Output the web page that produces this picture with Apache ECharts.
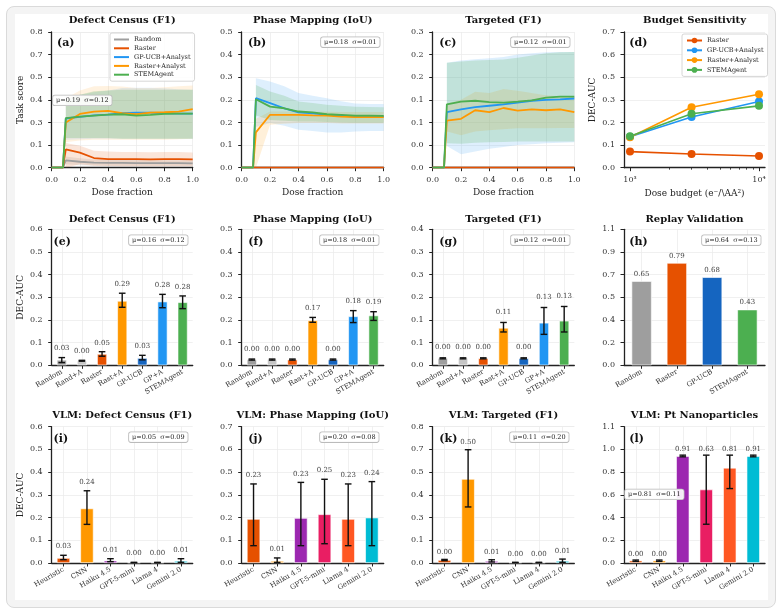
<!DOCTYPE html>
<html><head><meta charset="utf-8">
<script src="https://cdn.jsdelivr.net/npm/echarts@6/dist/echarts.min.js"></script>
<style>
html,body{margin:0;padding:0;background:#fff;}
#card{position:absolute;left:6px;top:6px;width:768px;height:600px;background:#f4f4f4;border:1px solid #dadada;border-radius:8px;}
#inner{position:absolute;left:15px;top:14px;width:753px;height:586px;background:#fff;}
#chart{position:absolute;left:0;top:0;width:782px;height:616px;}
</style></head><body>
<div id="card"></div><div id="inner"></div><div id="chart"></div>
<script>
// ================= DATA =================
const doseX = [0, 0.08, 0.1, 0.2, 0.3, 0.4, 0.5, 0.6, 0.7, 0.8, 0.9, 1.0];
const methodNames = ['Random', 'Raster', 'GP-UCB+Analyst', 'Raster+Analyst', 'STEMAgent'];

// (a) Defect Census (F1) task score vs dose
const aRandom = [0, 0, 0.043, 0.035, 0.030, 0.028, 0.028, 0.027, 0.027, 0.027, 0.027, 0.026];
const aRaster = [0, 0, 0.108, 0.089, 0.057, 0.051, 0.051, 0.050, 0.049, 0.050, 0.050, 0.049];
const aGP     = [0, 0, 0.290, 0.300, 0.308, 0.313, 0.321, 0.325, 0.325, 0.321, 0.319, 0.319];
const aRA     = [0, 0, 0.266, 0.317, 0.331, 0.335, 0.321, 0.315, 0.325, 0.327, 0.331, 0.345];
const aSTEM   = [0, 0, 0.292, 0.301, 0.307, 0.313, 0.315, 0.307, 0.311, 0.317, 0.319, 0.319];
const aRandomLo = [null, null, 0.020, 0.015, 0.012, 0.010, 0.010, 0.010, 0.010, 0.010, 0.010, 0.010];
const aRandomHi = [null, null, 0.066, 0.055, 0.048, 0.045, 0.045, 0.045, 0.044, 0.044, 0.044, 0.043];
const aRasterLo = [null, null, 0.000, 0.020, 0.012, 0.010, 0.008, 0.008, 0.008, 0.008, 0.008, 0.008];
const aRasterHi = [null, null, 0.145, 0.130, 0.100, 0.095, 0.093, 0.092, 0.091, 0.092, 0.092, 0.090];
const aGPLo   = [null, null, 0.165, 0.168, 0.170, 0.170, 0.170, 0.170, 0.170, 0.170, 0.170, 0.170];
const aGPHi   = [null, null, 0.410, 0.430, 0.445, 0.455, 0.470, 0.472, 0.472, 0.468, 0.462, 0.460];
const aRALo   = [null, null, 0.150, 0.160, 0.165, 0.165, 0.165, 0.165, 0.165, 0.165, 0.168, 0.170];
const aRAHi   = [null, null, 0.410, 0.455, 0.480, 0.482, 0.478, 0.470, 0.470, 0.475, 0.480, 0.485];
const aSTEMLo = [null, null, 0.175, 0.175, 0.175, 0.175, 0.170, 0.170, 0.170, 0.170, 0.170, 0.170];
const aSTEMHi = [null, null, 0.400, 0.430, 0.450, 0.455, 0.460, 0.460, 0.460, 0.460, 0.460, 0.460];

// (b) Phase Mapping (IoU)
const bRandom = [0, 0, 0, 0, 0, 0, 0, 0, 0, 0, 0, 0];
const bRaster = [0, 0, 0, 0, 0, 0, 0, 0, 0, 0, 0, 0];
const bGP     = [0, 0, 0.256, 0.238, 0.219, 0.204, 0.200, 0.195, 0.192, 0.188, 0.188, 0.188];
const bRA     = [0, 0, 0.130, 0.195, 0.195, 0.195, 0.193, 0.192, 0.188, 0.186, 0.186, 0.186];
const bSTEM   = [0, 0, 0.252, 0.225, 0.219, 0.207, 0.204, 0.197, 0.195, 0.192, 0.192, 0.191];
const bGPLo   = [null, null, 0.150, 0.165, 0.155, 0.140, 0.135, 0.130, 0.130, 0.133, 0.135, 0.135];
const bGPHi   = [null, null, 0.330, 0.318, 0.300, 0.275, 0.265, 0.256, 0.245, 0.237, 0.235, 0.235];
const bRALo   = [null, 0, 0.000, 0.158, 0.162, 0.165, 0.165, 0.165, 0.163, 0.163, 0.163, 0.163];
const bRAHi   = [null, 0, 0.180, 0.207, 0.207, 0.207, 0.206, 0.206, 0.205, 0.205, 0.205, 0.205];
const bSTEMLo = [null, null, 0.192, 0.176, 0.173, 0.170, 0.170, 0.168, 0.167, 0.166, 0.166, 0.166];
const bSTEMHi = [null, null, 0.305, 0.281, 0.265, 0.244, 0.238, 0.232, 0.228, 0.225, 0.224, 0.223];

// (c) Targeted (F1)
const cRandom = [0, 0, 0, 0, 0, 0, 0, 0, 0, 0, 0, 0];
const cRaster = [0, 0, 0, 0, 0, 0, 0, 0, 0, 0, 0, 0];
const cGP     = [0, 0, 0.123, 0.129, 0.134, 0.137, 0.140, 0.144, 0.148, 0.150, 0.151, 0.153];
const cRA     = [0, 0, 0.104, 0.108, 0.127, 0.123, 0.132, 0.126, 0.129, 0.127, 0.129, 0.123];
const cSTEM   = [0, 0, 0.140, 0.146, 0.148, 0.145, 0.144, 0.146, 0.149, 0.155, 0.157, 0.157];
const cGPLo   = [null, null, 0.048, 0.030, 0.036, 0.042, 0.046, 0.050, 0.052, 0.054, 0.055, 0.056];
const cGPHi   = [null, null, 0.232, 0.237, 0.240, 0.242, 0.245, 0.250, 0.253, 0.255, 0.256, 0.256];
const cRALo   = [null, null, 0.080, 0.072, 0.080, 0.083, 0.085, 0.087, 0.087, 0.087, 0.088, 0.088];
const cRAHi   = [null, null, 0.142, 0.150, 0.168, 0.165, 0.174, 0.170, 0.165, 0.160, 0.158, 0.157];
const cSTEMLo = [null, null, 0.054, 0.053, 0.055, 0.056, 0.057, 0.058, 0.058, 0.058, 0.058, 0.058];
const cSTEMHi = [null, null, 0.232, 0.235, 0.237, 0.238, 0.239, 0.243, 0.248, 0.253, 0.255, 0.256];

// (d) Budget sensitivity
const budgetDose = [1000, 3000, 10000];
const budgetMajor = [1000, 10000];
const budgetMinor = [2000, 3000, 4000, 5000, 6000, 7000, 8000, 9000];
const budgetLabels = ['10³', '10⁴'];
const dRaster = [0.083, 0.071, 0.060];
const dGP     = [0.160, 0.262, 0.341];
const dRA     = [0.157, 0.312, 0.379];
const dSTEM   = [0.162, 0.278, 0.319];

// Row 2 bar panels
const agentCats = ['Random', 'Rand+A', 'Raster', 'Rast+A', 'GP-UCB', 'GP+A', 'STEMAgent'];
const eVals = [0.024, 0.020, 0.050, 0.284, 0.032, 0.281, 0.278];
const eLo   = [0.012, 0.018, 0.040, 0.256, 0.024, 0.254, 0.250];
const eHi   = [0.034, 0.022, 0.060, 0.318, 0.044, 0.313, 0.306];
const eLbl  = ['0.03', '0.00', '0.05', '0.29', '0.03', '0.28', '0.28'];
const fVals = [0.021, 0.021, 0.021, 0.165, 0.021, 0.180, 0.183];
const fLo   = [0.019, 0.019, 0.019, 0.158, 0.019, 0.157, 0.165];
const fHi   = [0.023, 0.023, 0.023, 0.176, 0.023, 0.201, 0.197];
const fLbl  = ['0.00', '0.00', '0.00', '0.17', '0.00', '0.18', '0.19'];
const gVals = [0.0206, 0.0206, 0.0206, 0.110, 0.0206, 0.125, 0.131];
const gLo   = [0.019, 0.019, 0.019, 0.098, 0.019, 0.091, 0.098];
const gHi   = [0.022, 0.022, 0.022, 0.126, 0.022, 0.170, 0.173];
const gLbl  = ['0.00', '0.00', '0.00', '0.11', '0.00', '0.13', '0.13'];
const replayCats = ['Random', 'Raster', 'GP-UCB', 'STEMAgent'];
const hVals = [0.65, 0.79, 0.68, 0.43];
const hLbl  = ['0.65', '0.79', '0.68', '0.43'];

// Row 3 VLM panels
const vlmCats = ['Heuristic', 'CNN', 'Haiku 4.5', 'GPT-5-mini', 'Llama 4', 'Gemini 2.0'];
const iVals = [0.022, 0.240, 0.0103, 0.002, 0.002, 0.009];
const iLo   = [0.0147, 0.170, 0.006, 0.001, 0.001, 0.003];
const iHi   = [0.034, 0.318, 0.019, 0.003, 0.003, 0.019];
const iLbl  = ['0.03', '0.24', '0.01', '0.00', '0.00', '0.01'];
const jVals = [0.226, 0.0103, 0.231, 0.250, 0.226, 0.233];
const jLo   = [0.089, 0.003, 0.089, 0.099, 0.089, 0.089];
const jHi   = [0.406, 0.026, 0.414, 0.430, 0.406, 0.418];
const jLbl  = ['0.23', '0.01', '0.23', '0.25', '0.23', '0.24'];
const kVals = [0.0176, 0.493, 0.0117, 0.003, 0.003, 0.012];
const kLo   = [0.014, 0.329, 0.006, 0.002, 0.002, 0.004];
const kHi   = [0.021, 0.665, 0.019, 0.004, 0.004, 0.023];
const kLbl  = ['0.00', '0.50', '0.01', '0.00', '0.00', '0.01'];
const lVals = [0.020, 0.020, 0.902, 0.620, 0.803, 0.902];
const lLo   = [0.014, 0.014, 0.896, 0.327, 0.628, 0.896];
const lHi   = [0.025, 0.025, 0.910, 0.910, 0.910, 0.910];
const lLbl  = ['0.00', '0.00', '0.91', '0.63', '0.81', '0.91'];

// y-axis maxima and tick labels
const yMax = [0.8, 0.5, 0.3, 0.7, 0.6, 0.5, 0.4, 1.05, 0.6, 0.7, 0.8, 1.15];
const yTicks = [
  ['0.0','0.1','0.3','0.4','0.5','0.7','0.8'],
  ['0.0','0.1','0.2','0.2','0.3','0.4','0.5'],
  ['0.0','0.0','0.1','0.1','0.2','0.2','0.3'],
  ['0.0','0.1','0.2','0.3','0.5','0.6','0.7'],
  ['0.0','0.1','0.2','0.3','0.4','0.5','0.6'],
  ['0.0','0.1','0.2','0.2','0.3','0.4','0.5'],
  ['0.0','0.1','0.1','0.2','0.3','0.3','0.4'],
  ['0.0','0.2','0.4','0.5','0.7','0.9','1.1'],
  ['0.0','0.1','0.2','0.3','0.4','0.5','0.6'],
  ['0.0','0.1','0.2','0.3','0.5','0.6','0.7'],
  ['0.0','0.1','0.3','0.4','0.5','0.7','0.8'],
  ['0.0','0.2','0.4','0.6','0.8','1.0','1.1']
];
const panelTitles = ['Defect Census (F1)', 'Phase Mapping (IoU)', 'Targeted (F1)', 'Budget Sensitivity',
  'Defect Census (F1)', 'Phase Mapping (IoU)', 'Targeted (F1)', 'Replay Validation',
  'VLM: Defect Census (F1)', 'VLM: Phase Mapping (IoU)', 'VLM: Targeted (F1)', 'VLM: Pt Nanoparticles'];
const panelLetters = ['(a)','(b)','(c)','(d)','(e)','(f)','(g)','(h)','(i)','(j)','(k)','(l)'];
const statTexts = ['μ=0.19  σ=0.12', 'μ=0.18  σ=0.01', 'μ=0.12  σ=0.01', null,
  'μ=0.16  σ=0.12', 'μ=0.18  σ=0.01', 'μ=0.12  σ=0.01', 'μ=0.64  σ=0.13',
  'μ=0.05  σ=0.09', 'μ=0.20  σ=0.08', 'μ=0.11  σ=0.20', 'μ=0.81  σ=0.11'];

// ================= STYLE / LAYOUT =================
const FF = 'DejaVu Serif';
const COL = {Random:'#9e9e9e', RandA:'#c6c6c6', Raster:'#e65100', RA:'#ff9800', GPUCB:'#1565c0', GP:'#2196f3', STEM:'#4caf50',
  Haiku:'#9c27b0', GPT:'#e91e63', Llama:'#ff5722', Gemini:'#00bcd4'};
const agentColors = [COL.Random, COL.RandA, COL.Raster, COL.RA, COL.GPUCB, COL.GP, COL.STEM];
const replayColors = [COL.Random, COL.Raster, COL.GPUCB, COL.STEM];
const vlmColors = [COL.Raster, COL.RA, COL.Haiku, COL.GPT, COL.Llama, COL.Gemini];

const colL = [51.7, 241.7, 432.7, 624];
const colW = [141, 142, 141.6, 141];
const rowT = [32, 229.3, 426.7];
const rowH = [135.7, 136, 136.3];
const titleGap = [11.5, 10.3, 11];
const letterPos = [[57,43.3],[248,43.3],[439.3,43.3],[629.3,43.3],[53.5,241.7],[248.3,241.7],[439.3,241.7],[629.3,241.7],
  [53.5,439],[248.3,439],[439.3,439],[629.3,439]];
const statPos = [[53,95.5],[321,37.3],[511,37.3],null,[129,235.3],[320,235.3],[511,235.3],[702,235.3],
  [129,432.3],[320,432.3],[510,432.3],[625,489.5]];

const AX = '#222';
const grid = [];
for (let r = 0; r < 3; r++) for (let c = 0; c < 4; c++)
  grid.push({left: colL[c], top: rowT[r], width: colW[c], height: rowH[r]});

function yAx(gi, name, gap) {
  const M = yMax[gi], labels = yTicks[gi];
  return {type:'value', gridIndex:gi, min:0, max:M, interval:M/6,
    name: name || '', nameLocation:'middle', nameGap: gap || 27,
    nameTextStyle:{fontFamily:FF, fontSize:9, color:'#222'},
    axisLine:{show:true, lineStyle:{color:AX, width:1.3}},
    axisTick:{show:true, length:3.5, lineStyle:{color:AX, width:1}},
    axisLabel:{fontFamily:FF, fontSize:8, color:'#333', margin:9, showMinLabel:true, showMaxLabel:true,
      formatter: v => labels[Math.round(v / M * 6)]},
    splitLine:{show:true, lineStyle:{color:'#ececec', width:0.8}}};
}
function doseAx(gi) {
  return {type:'value', gridIndex:gi, min:0, max:1, interval:0.2, name:'Dose fraction', nameLocation:'middle', nameGap:20,
    nameTextStyle:{fontFamily:FF, fontSize:9, color:'#222'},
    axisLine:{show:true, onZero:false, lineStyle:{color:AX, width:1.3}},
    axisTick:{show:true, length:3.5, lineStyle:{color:AX, width:1}},
    axisLabel:{fontFamily:FF, fontSize:8, color:'#333', margin:8.5, formatter: v => v.toFixed(1)},
    splitLine:{show:true, lineStyle:{color:'#ececec', width:0.8}}};
}
function catAx(gi, cats) {
  return {type:'category', gridIndex:gi, data:cats,
    axisLine:{show:true, onZero:false, lineStyle:{color:AX, width:1.3}},
    axisTick:{show:true, alignWithLabel:true, length:3.5, lineStyle:{color:AX, width:1}},
    axisLabel:{rotate:30, interval:0, fontFamily:FF, fontSize:7, color:'#333', margin:6},
    splitLine:{show:true, alignWithLabel:true, lineStyle:{color:'#ececec', width:0.8}}};
}

const xAxis = [], yAxis = [], series = [];

function bandSeries(gi, xs, lo, hi, color, op) {
  const d = [];
  xs.forEach((x, i) => { if (lo[i] != null && hi[i] != null) d.push([x, lo[i], hi[i]]); });
  return {type:'custom', xAxisIndex:gi, yAxisIndex:gi, z:1, silent:true, data:d, encode:{x:0, y:[1,2]},
    renderItem: (params, api) => {
      if (params.dataIndex !== 0) return null;
      const top = d.map(p => api.coord([p[0], p[2]]));
      const bot = d.map(p => api.coord([p[0], p[1]])).reverse();
      return {type:'polygon', shape:{points: top.concat(bot)}, style:{fill:color, opacity:op}};
    }};
}
function lineSeries(gi, name, ys, color) {
  return {type:'line', name:name, xAxisIndex:gi, yAxisIndex:gi, data: doseX.map((x, i) => [x, ys[i]]),
    symbol:'none', lineStyle:{width:1.8, color:color}, itemStyle:{color:color}, z:3};
}
function linePanel(gi, lines, bands, yName) {
  xAxis[gi] = doseAx(gi);
  yAxis[gi] = yAx(gi, yName, 27);
  bands.forEach(b => series.push(bandSeries(gi, doseX, b[0], b[1], b[2], b[3])));
  lines.forEach(l => series.push(lineSeries(gi, l[0], l[1], l[2])));
}
function barPanel(gi, cats, vals, colors, lo, hi, labels, off, bw, showErr, yName) {
  xAxis[gi] = catAx(gi, cats);
  yAxis[gi] = yAx(gi, yName, 26.5);
  series.push({type:'bar', xAxisIndex:gi, yAxisIndex:gi, barWidth:bw, z:2,
    data: vals.map((v, i) => ({value:v, itemStyle:{color:colors[i]}})),
    itemStyle:{borderColor:'#ffffff', borderWidth:0.6}});
  series.push({type:'custom', xAxisIndex:gi, yAxisIndex:gi, z:5, silent:true,
    data: lo.map((l, i) => [i, l, hi[i]]), encode:{x:0, y:[1,2]},
    renderItem: (params, api) => {
      const i = api.value(0);
      const p1 = api.coord([i, api.value(1)]), p2 = api.coord([i, api.value(2)]);
      const ch = [];
      if (showErr) {
        const ls = {stroke:'#111', lineWidth:1.4};
        ch.push({type:'line', shape:{x1:p1[0], y1:p1[1], x2:p2[0], y2:p2[1]}, style:ls});
        ch.push({type:'line', shape:{x1:p1[0]-3.3, y1:p1[1], x2:p1[0]+3.3, y2:p1[1]}, style:ls});
        ch.push({type:'line', shape:{x1:p2[0]-3.3, y1:p2[1], x2:p2[0]+3.3, y2:p2[1]}, style:ls});
      }
      ch.push({type:'text', x:p2[0], y:p2[1]-off, style:{text:labels[params.dataIndex], font:'7px "DejaVu Serif"', fill:'#444', align:'center', verticalAlign:'middle'}});
      return {type:'group', children:ch};
    }});
}

// (a)
linePanel(0,
  [['Random', aRandom, COL.Random], ['Raster', aRaster, COL.Raster], ['GP-UCB+Analyst', aGP, COL.GP], ['Raster+Analyst', aRA, COL.RA], ['STEMAgent', aSTEM, COL.STEM]],
  [[aRandomLo, aRandomHi, COL.Random, 0.2], [aRasterLo, aRasterHi, COL.Raster, 0.15], [aGPLo, aGPHi, COL.GP, 0.13], [aRALo, aRAHi, COL.RA, 0.12], [aSTEMLo, aSTEMHi, COL.STEM, 0.22]],
  'Task score');
// (b)
linePanel(1,
  [['Random', bRandom, COL.Random], ['Raster', bRaster, COL.Raster], ['GP-UCB+Analyst', bGP, COL.GP], ['Raster+Analyst', bRA, COL.RA], ['STEMAgent', bSTEM, COL.STEM]],
  [[bGPLo, bGPHi, COL.GP, 0.15], [bRALo, bRAHi, COL.RA, 0.15], [bSTEMLo, bSTEMHi, COL.STEM, 0.2]]);
// (c)
linePanel(2,
  [['Random', cRandom, COL.Random], ['Raster', cRaster, COL.Raster], ['GP-UCB+Analyst', cGP, COL.GP], ['Raster+Analyst', cRA, COL.RA], ['STEMAgent', cSTEM, COL.STEM]],
  [[cGPLo, cGPHi, COL.GP, 0.15], [cRALo, cRAHi, COL.RA, 0.15], [cSTEMLo, cSTEMHi, COL.STEM, 0.2]]);

// (d) budget (log-scaled dose axis)
const lg = v => Math.log10(v);
const dMin = 2.9535, dMax = 4.0465;
xAxis[3] = {type:'value', gridIndex:3, min:dMin, max:dMax, position:'bottom',
  name:'Dose budget (e⁻/\\AA²)', nameLocation:'middle', nameGap:21, nameTextStyle:{fontFamily:FF, fontSize:9, color:'#222'},
  axisLine:{show:true, onZero:false, lineStyle:{color:AX, width:1.3}},
  axisTick:{show:true, length:3.5, lineStyle:{color:AX, width:1}, customValues: budgetMajor.map(lg)},
  axisLabel:{fontFamily:FF, fontSize:8, color:'#333', margin:8.5, customValues: budgetMajor.map(lg),
    formatter: v => budgetLabels[Math.round(v) - 3]},
  splitLine:{show:false}};
xAxis[12] = {type:'value', gridIndex:3, min:dMin, max:dMax, position:'bottom',
  axisLine:{show:false}, axisLabel:{show:false}, splitLine:{show:false},
  axisTick:{show:true, length:2, lineStyle:{color:AX, width:0.8}, customValues: budgetMinor.map(lg)}};
yAxis[3] = yAx(3, 'DEC-AUC', 27);
[['Raster', dRaster, COL.Raster], ['GP-UCB+Analyst', dGP, COL.GP], ['Raster+Analyst', dRA, COL.RA], ['STEMAgent', dSTEM, COL.STEM]].forEach(l => {
  series.push({type:'line', name: l[0] + '\u200b', xAxisIndex:3, yAxisIndex:3,
    data: budgetDose.map((d, i) => [lg(d), l[1][i]]), symbol:'circle', symbolSize:8,
    lineStyle:{width:1.6, color:l[2]}, itemStyle:{color:l[2]}, z:3});
});

// Row 2
barPanel(4, agentCats, eVals, agentColors, eLo, eHi, eLbl, 9, '49%', true, 'DEC-AUC');
barPanel(5, agentCats, fVals, agentColors, fLo, fHi, fLbl, 9.5, '49%', true);
barPanel(6, agentCats, gVals, agentColors, gLo, gHi, gLbl, 10.5, '49%', true);
barPanel(7, replayCats, hVals, replayColors, hVals, hVals, hLbl, 7, '57%', false);
// Row 3
barPanel(8, vlmCats, iVals, vlmColors, iLo, iHi, iLbl, 8.7, '56%', true, 'DEC-AUC');
barPanel(9, vlmCats, jVals, vlmColors, jLo, jHi, jLbl, 8.7, '56%', true);
barPanel(10, vlmCats, kVals, vlmColors, kLo, kHi, kLbl, 7.7, '56%', true);
barPanel(11, vlmCats, lVals, vlmColors, lLo, lHi, lLbl, 5.8, '56%', true);

// ================= GRAPHICS (titles, letters, stat boxes) =================
const graphics = [];
for (let gi = 0; gi < 12; gi++) {
  const r = Math.floor(gi / 4), c = gi % 4;
  graphics.push({type:'text', x: colL[c] + colW[c] / 2, y: rowT[r] - titleGap[r], z:50,
    style:{text: panelTitles[gi], font:'bold 10px "DejaVu Serif"', fill:'#111', align:'center', verticalAlign:'middle'}});
  graphics.push({type:'text', x: letterPos[gi][0], y: letterPos[gi][1], z:50,
    style:{text: panelLetters[gi], font:'bold 11px "DejaVu Serif"', fill:'#111', align:'left', verticalAlign:'middle'}});
  if (statTexts[gi]) graphics.push({type:'text', x: statPos[gi][0], y: statPos[gi][1], z:50,
    style:{text: statTexts[gi], font:'6.5px "DejaVu Serif"', fill:'#222', align:'left', verticalAlign:'top',
      backgroundColor:'rgba(255,255,255,0.9)', borderColor:'#bbbbbb', borderWidth:0.8, borderRadius:2, padding:[1.6, 3, 1.2, 3]}});
}

const legendBase = {orient:'vertical', itemWidth:15, itemHeight:6, itemGap:2.8, selectedMode:false,
  textStyle:{fontFamily:FF, fontSize:6.5, color:'#222'}, padding:[3, 4, 3, 4],
  borderColor:'#cccccc', borderWidth:0.8, borderRadius:2, backgroundColor:'rgba(255,255,255,0.85)'};

const chart = echarts.init(document.getElementById('chart'), null, {renderer:'canvas'});
chart.setOption({
  animation:false,
  backgroundColor:'transparent',
  textStyle:{fontFamily:FF},
  grid: grid,
  xAxis: xAxis,
  yAxis: yAxis,
  legend: [
    Object.assign({}, legendBase, {left:110, top:33, icon:'rect', itemWidth:15, itemHeight:2, itemGap:1.8, data: methodNames}),
    Object.assign({}, legendBase, {left:682, top:34, itemWidth:15, itemHeight:7,
      data: ['Raster', 'GP-UCB+Analyst', 'Raster+Analyst', 'STEMAgent'].map(n => n + '\u200b'),
      formatter: n => n.replace('\u200b', '')})
  ],
  graphic: {elements: graphics},
  series: series
});
</script></body></html>
